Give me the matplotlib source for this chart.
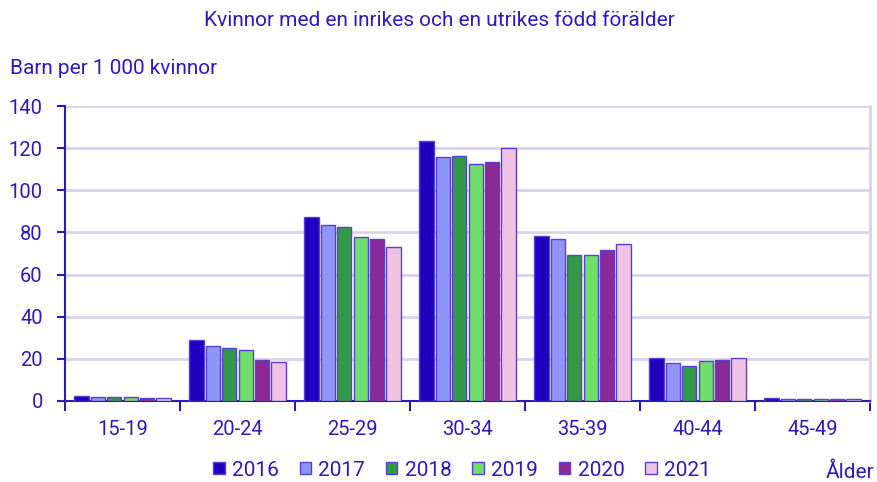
import matplotlib.pyplot as plt
import numpy as np

plt.rcParams['font.family'] = ['Roboto', 'DejaVu Sans']

# Data
aldrar = ['15-19', '20-24', '25-29', '30-34', '35-39', '40-44', '45-49']
ar = ['2016', '2017', '2018', '2019', '2020', '2021']
varden = {
    '2016': [2.5, 29, 87.5, 123.5, 78.5, 20.5, 1.2],
    '2017': [2.0, 26, 83.5, 116, 77, 17.8, 1.1],
    '2018': [2.0, 25, 82.5, 116.5, 69.5, 16.5, 1.1],
    '2019': [2.0, 24, 78, 112.5, 69.5, 19, 1.1],
    '2020': [1.5, 19.5, 77, 113.5, 71.5, 19.5, 1.1],
    '2021': [1.5, 18.5, 73, 120, 74.5, 20.2, 1.1],
}
farger = ['#1f00c0', '#8f95f5', '#319a46', '#6fde6c', '#8c2a98', '#f0c2e4']

textfarg = '#2b1bbb'
kant = '#5a3fd4'
rutnat = '#d6d4f0'

fig = plt.figure(figsize=(8.78, 4.82), dpi=100)
ax = fig.add_axes([65 / 878, 1 - 401 / 482, 805 / 878, 295 / 482])

x = np.arange(len(aldrar))
steg = 0.143
bredd = 0.125
for i, a in enumerate(ar):
    ax.bar(x + (i - 2.5) * steg, varden[a], width=bredd, color=farger[i],
           edgecolor=kant, linewidth=1.0, label=a, zorder=3)

ax.set_xlim(-0.5, len(aldrar) - 0.5)
ax.set_ylim(0, 140)
ax.set_yticks(range(0, 141, 20))
ax.set_xticks(x)
ax.set_xticklabels(aldrar)
ax.set_xticks(np.arange(-0.5, len(aldrar)), minor=True)
ax.tick_params(axis='x', which='major', length=0, pad=14, labelsize=14.5, labelcolor=textfarg)
ax.tick_params(axis='x', which='minor', length=7, width=1.5, color=textfarg)
ax.tick_params(axis='y', length=6, width=1.5, color=textfarg, labelsize=14.5, labelcolor=textfarg, pad=10)

ax.grid(axis='y', color=rutnat, linewidth=2, zorder=0)
ax.spines['top'].set_visible(False)
ax.spines['right'].set_color(rutnat)
ax.spines['right'].set_linewidth(2)
for s in ['left', 'bottom']:
    ax.spines[s].set_color(textfarg)
    ax.spines[s].set_linewidth(1.5)

fig.text(0.5, 1 - 21 / 482, 'Kvinnor med en inrikes och en utrikes född förälder',
         ha='center', va='center', fontsize=15, color=textfarg)
fig.text(10 / 878, 1 - 69 / 482, 'Barn per 1 000 kvinnor', ha='left', va='center',
         fontsize=15, color=textfarg)
fig.text(826 / 878, 1 - 472 / 482, 'Ålder', ha='left', va='center',
         fontsize=15, color=textfarg)

leg = fig.legend(loc='center', bbox_to_anchor=(462 / 878, 1 - 470 / 482), ncol=6,
                 frameon=False, handlelength=0.55, handleheight=0.55, handletextpad=0.35,
                 columnspacing=1.0, fontsize=15)
for t in leg.get_texts():
    t.set_color(textfarg)

fig.savefig('out.png', dpi=100)
